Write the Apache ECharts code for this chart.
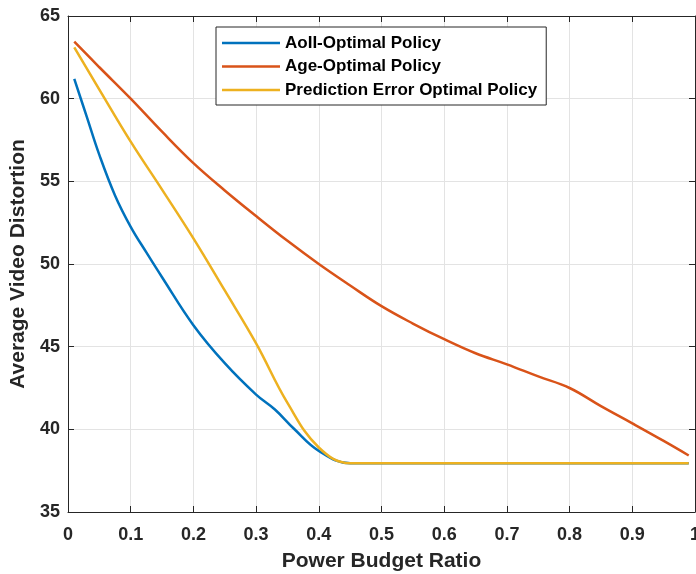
<!DOCTYPE html>
<html>
<head>
<meta charset="utf-8">
<script src="https://cdn.jsdelivr.net/npm/echarts@6/dist/echarts.min.js"></script>
<style>
html,body{margin:0;padding:0;background:#fff;}
#c{width:696px;height:574px;}
</style>
</head>
<body>
<div id="c"></div>
<script>
// ---- data ----
const seriesNames = ['AoII-Optimal Policy', 'Age-Optimal Policy', 'Prediction Error Optimal Policy'];

const aoiiX = [0.01, 0.03, 0.05, 0.075, 0.1, 0.125, 0.15, 0.2, 0.25, 0.3, 0.33, 0.36, 0.4, 0.45, 0.5, 0.6, 0.7, 0.8, 0.9, 0.99];
const aoiiY = [61.2, 58.9, 56.6, 54.15, 52.25, 50.7, 49.2, 46.3, 44.0, 42.1, 41.2, 40.05, 38.7, 37.95, 37.95, 37.95, 37.95, 37.95, 37.95, 37.95];

const ageX = [0.01, 0.05, 0.1, 0.15, 0.2, 0.25, 0.3, 0.35, 0.4, 0.45, 0.5, 0.55, 0.6, 0.65, 0.7, 0.75, 0.8, 0.85, 0.9, 0.95, 0.99];
const ageY = [63.45, 61.9, 60.0, 58.0, 56.1, 54.45, 52.9, 51.4, 50.0, 48.7, 47.45, 46.4, 45.45, 44.6, 43.93, 43.2, 42.5, 41.4, 40.36, 39.3, 38.42];

const predX = [0.01, 0.05, 0.1, 0.15, 0.2, 0.25, 0.3, 0.35, 0.4, 0.45, 0.5, 0.6, 0.7, 0.8, 0.9, 0.99];
const predY = [63.1, 60.55, 57.4, 54.5, 51.55, 48.4, 45.2, 41.6, 38.9, 37.95, 37.95, 37.95, 37.95, 37.95, 37.95, 37.95];

const xTicks = { min: 0, max: 1, interval: 0.1 };
const yTicks = { min: 35, max: 65, interval: 5 };

const colors = ['#0072BD', '#D95319', '#EDB120'];

// ---- chart ----
const font = "'Liberation Sans', Arial, Helvetica, sans-serif";
const axisColor = '#262626';
const gridColor = '#e3e3e3';

function pairs(xs, ys) { return xs.map((x, i) => [x, ys[i]]); }

const chart = echarts.init(document.getElementById('c'), null, { renderer: 'canvas' });

const labelStyle = { fontFamily: font, fontWeight: 'bold', fontSize: 18, color: axisColor };

const option = {
  animation: false,
  backgroundColor: '#fff',
  grid: { left: 68, top: 16, right: 1, bottom: 62, containLabel: false, outerBoundsMode: 'none' },
  legend: {
    orient: 'vertical',
    left: 216,
    top: 27,
    padding: [6, 9, 5, 6],
    icon: 'rect',
    itemWidth: 58,
    itemHeight: 2.6,
    itemGap: 3.5,
    backgroundColor: '#fff',
    borderColor: axisColor,
    borderWidth: 1,
    borderRadius: 0,
    textStyle: { fontFamily: font, fontWeight: 'bold', fontSize: 17, color: '#000', lineHeight: 20, height: 20 },
    data: seriesNames
  },
  xAxis: [
    {
      type: 'value', min: xTicks.min, max: xTicks.max, interval: xTicks.interval, position: 'bottom',
      name: 'Power Budget Ratio', nameLocation: 'middle', nameGap: 39,
      nameTextStyle: { fontFamily: font, fontWeight: 'bold', fontSize: 21, color: axisColor },
      axisLine: { show: true, onZero: false, lineStyle: { color: axisColor, width: 1 } },
      axisTick: { show: true, inside: true, length: 6, lineStyle: { color: axisColor } },
      axisLabel: Object.assign({ margin: 14, formatter: v => String(Math.round(v * 10) / 10) }, labelStyle),
      splitLine: { show: true, lineStyle: { color: gridColor, width: 1 } }
    },
    {
      type: 'value', min: xTicks.min, max: xTicks.max, interval: xTicks.interval, position: 'top',
      axisLine: { show: true, onZero: false, lineStyle: { color: axisColor, width: 1 } },
      axisTick: { show: true, inside: true, length: 6, lineStyle: { color: axisColor } },
      axisLabel: { show: false },
      splitLine: { show: false }
    }
  ],
  yAxis: [
    {
      type: 'value', min: yTicks.min, max: yTicks.max, interval: yTicks.interval, position: 'left',
      name: 'Average Video Distortion', nameLocation: 'middle', nameGap: 31,
      nameTextStyle: { fontFamily: font, fontWeight: 'bold', fontSize: 21, color: axisColor },
      axisLine: { show: true, onZero: false, lineStyle: { color: axisColor, width: 1 } },
      axisTick: { show: true, inside: true, length: 6, lineStyle: { color: axisColor } },
      axisLabel: Object.assign({ margin: 8 }, labelStyle),
      splitLine: { show: true, lineStyle: { color: gridColor, width: 1 } }
    },
    {
      type: 'value', min: yTicks.min, max: yTicks.max, interval: yTicks.interval, position: 'right',
      axisLine: { show: true, onZero: false, lineStyle: { color: axisColor, width: 1 } },
      axisTick: { show: true, inside: true, length: 6, lineStyle: { color: axisColor } },
      axisLabel: { show: false },
      splitLine: { show: false }
    }
  ],
  series: [
    { name: seriesNames[0], data: pairs(aoiiX, aoiiY), color: colors[0] },
    { name: seriesNames[1], data: pairs(ageX, ageY), color: colors[1] },
    { name: seriesNames[2], data: pairs(predX, predY), color: colors[2] }
  ].map(s => Object.assign({
    type: 'line', xAxisIndex: 0, yAxisIndex: 0, smooth: 0.4, symbol: 'none', showSymbol: false,
    lineStyle: { width: 2.5, color: s.color }, itemStyle: { color: s.color }
  }, s))
};

chart.setOption(option);
</script>
</body>
</html>
